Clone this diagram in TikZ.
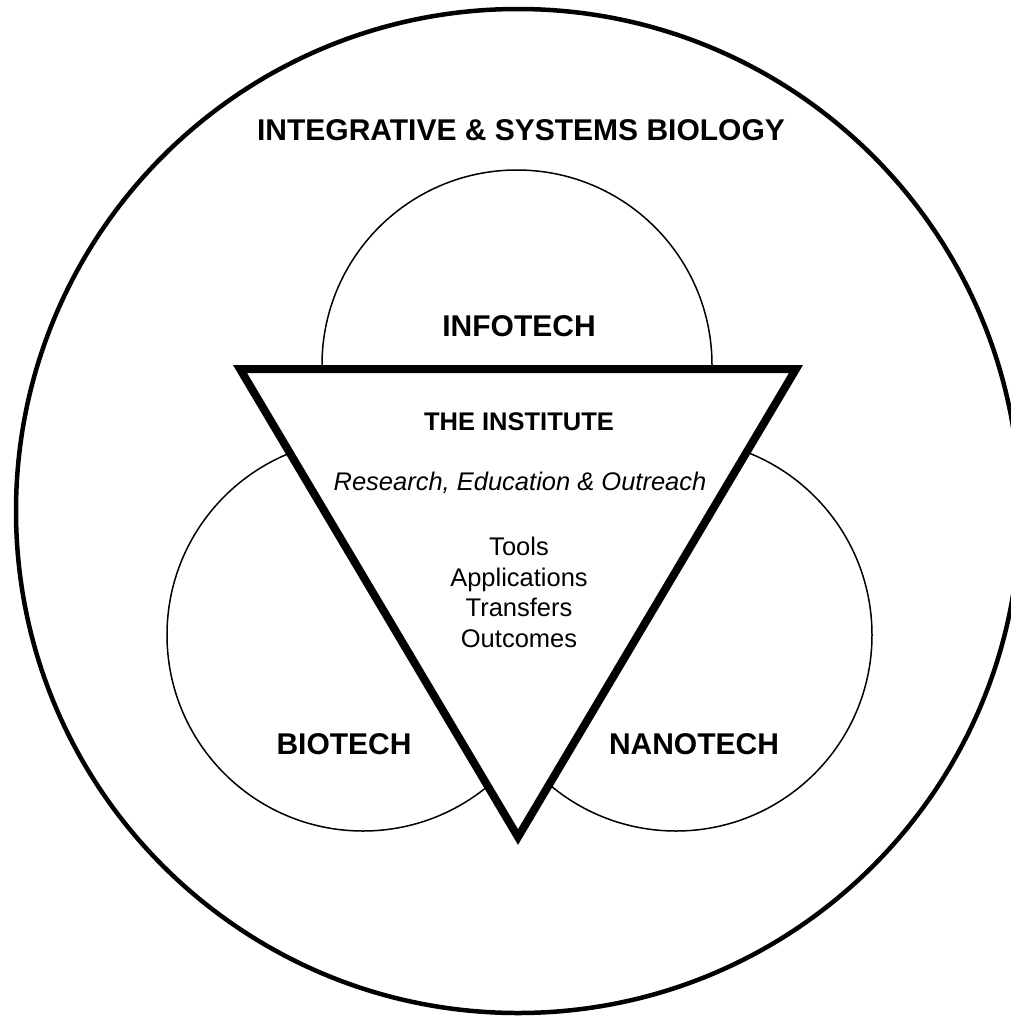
\documentclass[tikz,border=0pt]{standalone}
\usepackage{fontspec}
\setmainfont{Liberation Sans}
\tikzset{
  outerring/.style={draw=black, line width=4.5pt},
  fieldcircle/.style={draw=black, line width=1.5pt},
  institute/.style={draw=black, fill=white, line width=8pt, line join=miter},
  biglabel/.style={font=\fontsize{30}{36}\selectfont\bfseries, anchor=base, inner sep=0pt},
  headlabel/.style={font=\fontsize{25.5}{30}\selectfont\bfseries, anchor=base, inner sep=0pt},
  itallabel/.style={font=\fontsize{25.5}{30}\selectfont\itshape, anchor=base, inner sep=0pt},
  plainlabel/.style={font=\fontsize{25.5}{30}\selectfont, anchor=base, inner sep=0pt}
}
\begin{document}
\begin{tikzpicture}[x=1pt,y=-1pt]
\useasboundingbox (0,0) rectangle (1011,1017);
\clip (0,0) rectangle (1011,1017);
% outer circle
\coordinate (oc) at (518,511);
\draw[outerring] (oc) circle[radius=502pt];
% three field circles
\coordinate (ic) at (517,365);
\coordinate (bc) at (363,635);
\coordinate (nc) at (676,635);
\draw[fieldcircle] (ic) circle[radius=195pt];
\draw[fieldcircle] (bc) circle[radius=196pt];
\draw[fieldcircle] (nc) circle[radius=196pt];
% triangle
\coordinate (tl) at (240,369);
\coordinate (tr) at (796,369);
\coordinate (tb) at (518,837);
\draw[institute] (tl) -- (tr) -- (tb) -- cycle;
% labels
\node[biglabel] (isb) at (521,140) {INTEGRATIVE \& SYSTEMS BIOLOGY};
\node[biglabel] (info) at (519,336) {INFOTECH};
\node[biglabel] (bio) at (344,754) {BIOTECH};
\node[biglabel] (nano) at (694,754) {NANOTECH};
\node[headlabel] (inst) at (519,430) {THE INSTITUTE};
\node[itallabel] (reo) at (520,490) {Research, Education \& Outreach};
\node[plainlabel] (tools) at (519,555) {Tools};
\node[plainlabel] (apps) at (519,586) {Applications};
\node[plainlabel] (trans) at (519,616.5) {Transfers};
\node[plainlabel] (outc) at (519,647) {Outcomes};
\end{tikzpicture}
\end{document}
